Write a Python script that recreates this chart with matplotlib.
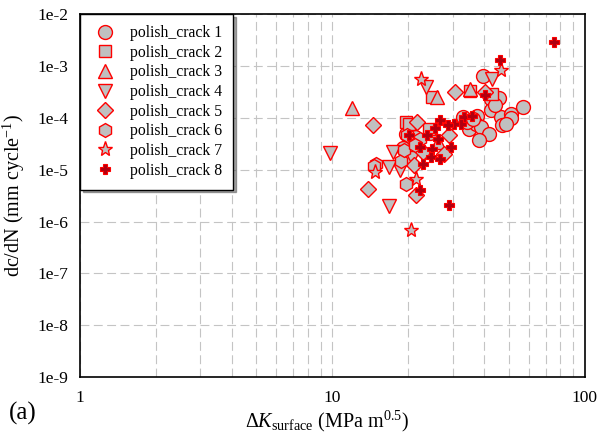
import matplotlib
matplotlib.use("Agg")
import matplotlib.pyplot as plt
from matplotlib.ticker import LogLocator, NullFormatter, FixedLocator, FixedFormatter

plt.rcParams['font.family'] = ['Liberation Serif', 'DejaVu Serif']
plt.rcParams['mathtext.fontset'] = 'custom'
plt.rcParams['mathtext.rm'] = 'Liberation Serif'
plt.rcParams['mathtext.it'] = 'Liberation Serif:italic'

# (dK, dc/dN)
crack1_x = [39.5, 42.4, 45.7, 42.4, 46.5, 51.0, 56.8, 47.0, 51.0, 48.7, 33.0, 37.5,
            34.8, 37.0, 38.8, 41.8, 38.0, 44.0, 34.0, 19.6, 21.2, 19.0, 24.3, 36.1]
crack1_y = [6.4e-4, 2.3e-4, 2.4e-4, 1.4e-4, 1.05e-4, 1.2e-4, 1.6e-4, 7.2e-5, 9.8e-5, 7.8e-5, 1.05e-4, 1.1e-4,
            6.2e-5, 7.8e-5, 6.7e-5, 5.0e-5, 3.7e-5, 1.8e-4, 8.5e-5, 5.0e-5, 4.2e-5, 2.6e-5, 5.2e-5, 9.5e-5]
crack2_x = [24.8, 35.1, 43.0, 19.6, 24.2, 20.2]
crack2_y = [2.5e-4, 3.3e-4, 2.95e-4, 8.3e-5, 6.2e-5, 7.5e-5]
crack3_x = [12.0, 26.0, 35.1, 26.1]
crack3_y = [1.58e-4, 2.5e-4, 3.55e-4, 3.5e-5]
crack4_x = [9.77, 16.8, 23.5, 42.8, 17.4, 18.5, 16.8, 20.7]
crack4_y = [2.1e-5, 2.0e-6, 3.9e-4, 5.6e-4, 2.2e-5, 1.0e-5, 1.15e-5, 1.7e-5]
crack5_x = [14.5, 13.9, 30.6, 40.3, 21.6, 29.1, 27.7, 21.1, 21.4, 22.8]
crack5_y = [7.2e-5, 4.3e-6, 3.1e-4, 3.1e-4, 8.3e-5, 4.7e-5, 2.0e-5, 1.26e-5, 3.2e-6, 2.2e-5]
crack6_x = [14.9, 14.6, 19.6, 18.7, 19.3, 22.3, 19.8, 21.2]
crack6_y = [1.3e-5, 1.2e-5, 5.4e-6, 1.5e-5, 2.4e-5, 4.0e-5, 4.6e-5, 3.0e-5]
crack7_x = [22.5, 46.5, 14.8, 21.4, 20.4]
crack7_y = [5.6e-4, 8.4e-4, 9.1e-6, 6.7e-6, 6.8e-7]
crack8_x = [75.7, 46.2, 40.3, 33.3, 35.8, 32.3, 30.3, 28.8, 26.6, 25.5, 23.8, 26.1,
            22.3, 20.1, 24.9, 29.4, 24.6, 26.6, 22.8, 22.2, 28.9]
crack8_y = [2.87e-3, 1.3e-3, 2.75e-4, 1.05e-4, 1.07e-4, 7.7e-5, 7.7e-5, 7.2e-5, 9.3e-5, 6.4e-5, 4.7e-5, 4.0e-5,
            2.75e-5, 4.7e-5, 2.55e-5, 2.75e-5, 1.8e-5, 1.65e-5, 1.3e-5, 4.0e-6, 2.1e-6]

labels = ['polish_crack %d' % i for i in range(1, 9)]
xs = [crack1_x, crack2_x, crack3_x, crack4_x, crack5_x, crack6_x, crack7_x, crack8_x]
ys = [crack1_y, crack2_y, crack3_y, crack4_y, crack5_y, crack6_y, crack7_y, crack8_y]
markers = ['o', 's', '^', 'v', 'D', 'h', '*', 'P']
sizes = [10, 9, 10, 10, 8, 10, 11, 7]

y_ticks = [1e-9, 1e-8, 1e-7, 1e-6, 1e-5, 1e-4, 1e-3, 1e-2]
y_tick_labels = ['1e-9', '1e-8', '1e-7', '1e-6', '1e-5', '1e-4', '1e-3', '1e-2']
x_ticks = [1, 10, 100]
x_tick_labels = ['1', '10', '100']

fig = plt.figure(figsize=(6.01, 4.33), dpi=100)
ax = fig.add_axes([0.133, 0.129, 0.840, 0.838])

for x, y, m, s, lab in zip(xs, ys, markers, sizes, labels):
    if m == 'P':
        ax.plot(x, y, linestyle='none', marker=m, ms=s, mfc='#b00010', mec='red',
                mew=0.8, label=lab)
    else:
        ax.plot(x, y, linestyle='none', marker=m, ms=s, mfc='#c0c0c0', mec='red',
                mew=1.0, label=lab)

ax.set_xscale('log')
ax.set_yscale('log')
ax.set_xlim(1, 100)
ax.set_ylim(1e-9, 1e-2)

ax.xaxis.set_major_locator(FixedLocator(x_ticks))
ax.xaxis.set_major_formatter(FixedFormatter(x_tick_labels))
ax.xaxis.set_minor_locator(LogLocator(base=10, subs=range(2, 10)))
ax.xaxis.set_minor_formatter(NullFormatter())
ax.yaxis.set_major_locator(FixedLocator(y_ticks))
ax.yaxis.set_major_formatter(FixedFormatter(y_tick_labels))
ax.yaxis.set_minor_locator(FixedLocator([]))

ax.grid(True, which='both', axis='x', color='#c4c4c4', linestyle=(0, (8, 4)), linewidth=0.8)
ax.grid(True, which='major', axis='y', color='#c4c4c4', linestyle=(0, (8, 4)), linewidth=0.8)
ax.set_axisbelow(True)
ax.tick_params(which='both', length=0, labelsize=12.5)
ax.tick_params(axis='x', pad=9)
ax.tick_params(axis='y', pad=8)
for sp in ax.spines.values():
    sp.set_linewidth(1.2)

ax.set_xlabel(r'$\Delta K_{\mathrm{surface}}$ (MPa m$^{0.5}$)', fontsize=14.5)
ax.set_ylabel(r'dc/dN (mm cycle$^{-1}$)', fontsize=14.5)
ax.xaxis.set_label_coords(0.49, -0.088)
ax.yaxis.set_label_coords(-0.104, 0.5)

leg = ax.legend(loc='upper left', bbox_to_anchor=(0.0, 1.0), fontsize=11.3,
                frameon=True, fancybox=False, shadow=True, borderaxespad=0,
                handletextpad=0.7, borderpad=0.7, labelspacing=0.23, handlelength=1.8)
leg.get_frame().set_edgecolor('black')
leg.get_frame().set_linewidth(1.0)

fig.text(0.015, 0.03, '(a)', fontsize=18)

fig.savefig('out.png', dpi=100)
